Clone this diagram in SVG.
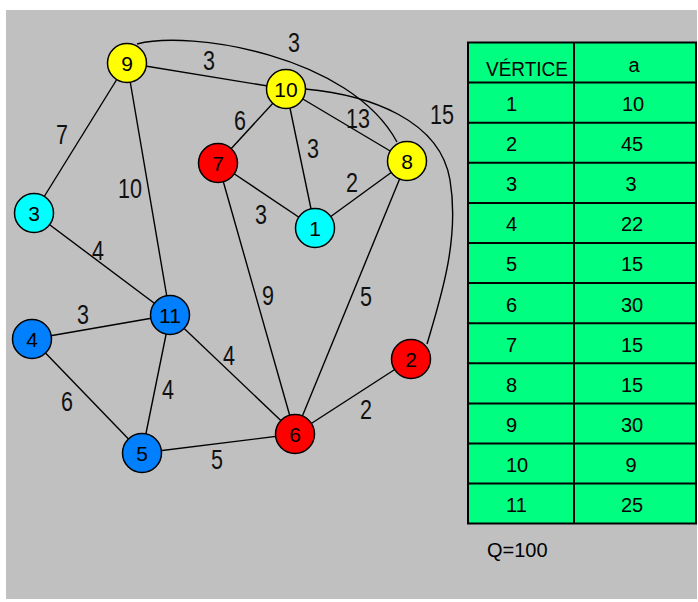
<svg xmlns="http://www.w3.org/2000/svg" width="698" height="602" viewBox="0 0 698 602">
  <style>
    .edge { fill: none; stroke: #000; stroke-width: 1.4; }
    .node circle { stroke: #000; stroke-width: 1.5; }
    .node text { font-family: "Liberation Sans", Arial, sans-serif; font-size: 21px; text-anchor: middle; fill: #000; }
    .w { font-family: "Liberation Sans", Arial, sans-serif; font-size: 27px; text-anchor: middle; fill: #111; }
    .yellow { fill: #ffff00; }
    .cyan { fill: #00ffff; }
    .red { fill: #ff0000; }
    .blue { fill: #0080ff; }
    .cell { fill: #00ff80; stroke: #000; stroke-width: 2; }
    .tt { font-family: "Liberation Sans", Arial, sans-serif; font-size: 20px; fill: #000; }
    .c2 { text-anchor: middle; }
  </style>

  <!-- canvas -->
  <rect x="0" y="0" width="698" height="602" fill="#ffffff"/>
  <rect x="6" y="10" width="691" height="589" fill="#c0c0c0"/>

  <!-- connectors -->
  <g id="edges">
    <line class="edge" x1="127" y1="63" x2="34" y2="213"/>
    <line class="edge" x1="127" y1="63" x2="286" y2="89"/>
    <line class="edge" x1="127" y1="63" x2="170" y2="315"/>
    <path class="edge" d="M137,44 C190,30 350,55 397,142"/>
    <line class="edge" x1="286" y1="89" x2="218" y2="163"/>
    <line class="edge" x1="286" y1="89" x2="315" y2="228"/>
    <line class="edge" x1="286" y1="89" x2="407" y2="161"/>
    <path class="edge" d="M305,89 C370,95 440,120 450,180 C460,240 440,300 427,344"/>
    <line class="edge" x1="218" y1="163" x2="315" y2="228"/>
    <line class="edge" x1="315" y1="228" x2="407" y2="161"/>
    <line class="edge" x1="218" y1="163" x2="295" y2="434"/>
    <line class="edge" x1="407" y1="161" x2="295" y2="434"/>
    <line class="edge" x1="34" y1="213" x2="170" y2="315"/>
    <line class="edge" x1="32" y1="339" x2="170" y2="315"/>
    <line class="edge" x1="32" y1="339" x2="142" y2="453"/>
    <line class="edge" x1="170" y1="315" x2="142" y2="453"/>
    <line class="edge" x1="170" y1="315" x2="295" y2="434"/>
    <line class="edge" x1="142" y1="453" x2="295" y2="434"/>
    <line class="edge" x1="295" y1="434" x2="411" y2="359"/>

    <!-- weights -->
    <text class="w" x="62" y="144" textLength="12" lengthAdjust="spacingAndGlyphs">7</text>
    <text class="w" x="130" y="198" textLength="24" lengthAdjust="spacingAndGlyphs">10</text>
    <text class="w" x="209" y="70" textLength="12" lengthAdjust="spacingAndGlyphs">3</text>
    <text class="w" x="294" y="52" textLength="12" lengthAdjust="spacingAndGlyphs">3</text>
    <text class="w" x="240" y="130" textLength="12" lengthAdjust="spacingAndGlyphs">6</text>
    <text class="w" x="313" y="158" textLength="12" lengthAdjust="spacingAndGlyphs">3</text>
    <text class="w" x="358" y="128" textLength="24" lengthAdjust="spacingAndGlyphs">13</text>
    <text class="w" x="442" y="124" textLength="24" lengthAdjust="spacingAndGlyphs">15</text>
    <text class="w" x="352" y="192" textLength="12" lengthAdjust="spacingAndGlyphs">2</text>
    <text class="w" x="261" y="224" textLength="12" lengthAdjust="spacingAndGlyphs">3</text>
    <text class="w" x="98" y="260" textLength="12" lengthAdjust="spacingAndGlyphs">4</text>
    <text class="w" x="83" y="324" textLength="12" lengthAdjust="spacingAndGlyphs">3</text>
    <text class="w" x="67" y="411" textLength="12" lengthAdjust="spacingAndGlyphs">6</text>
    <text class="w" x="168" y="399" textLength="12" lengthAdjust="spacingAndGlyphs">4</text>
    <text class="w" x="229" y="365" textLength="12" lengthAdjust="spacingAndGlyphs">4</text>
    <text class="w" x="217" y="469" textLength="12" lengthAdjust="spacingAndGlyphs">5</text>
    <text class="w" x="268" y="305" textLength="12" lengthAdjust="spacingAndGlyphs">9</text>
    <text class="w" x="366" y="306" textLength="12" lengthAdjust="spacingAndGlyphs">5</text>
    <text class="w" x="366" y="419" textLength="12" lengthAdjust="spacingAndGlyphs">2</text>
  </g>

  <!-- vertices -->
  <g id="n1" class="node"><circle class="cyan" cx="315" cy="228" r="19.5"/><text x="315" y="235.5">1</text></g>
  <g id="n2" class="node"><circle class="red" cx="411" cy="359" r="19.5"/><text x="411" y="366.5">2</text></g>
  <g id="n3" class="node"><circle class="cyan" cx="34" cy="213" r="19.5"/><text x="34" y="220.5">3</text></g>
  <g id="n4" class="node"><circle class="blue" cx="32" cy="339" r="19.5"/><text x="32" y="346.5">4</text></g>
  <g id="n5" class="node"><circle class="blue" cx="142" cy="453" r="19.5"/><text x="142" y="460.5">5</text></g>
  <g id="n6" class="node"><circle class="red" cx="295" cy="434" r="19.5"/><text x="295" y="441.5">6</text></g>
  <g id="n7" class="node"><circle class="red" cx="218" cy="163" r="19.5"/><text x="218" y="170.5">7</text></g>
  <g id="n8" class="node"><circle class="yellow" cx="407" cy="161" r="19.5"/><text x="407" y="168.5">8</text></g>
  <g id="n9" class="node"><circle class="yellow" cx="127" cy="63" r="19.5"/><text x="127" y="70.5">9</text></g>
  <g id="n10" class="node"><circle class="yellow" cx="286" cy="89" r="19.5"/><text x="286" y="96.5">10</text></g>
  <g id="n11" class="node"><circle class="blue" cx="170" cy="315" r="19.5"/><text x="170" y="322.5">11</text></g>

  <!-- weight table -->
  <g id="table">
    <rect class="cell" x="468" y="42.5" width="228" height="481"/>
    <g stroke="#000" stroke-width="2">
      <line x1="574" y1="42.5" x2="574" y2="523.5"/>
      <line x1="468" y1="82.6" x2="696" y2="82.6"/>
      <line x1="468" y1="122.7" x2="696" y2="122.7"/>
      <line x1="468" y1="162.8" x2="696" y2="162.8"/>
      <line x1="468" y1="202.9" x2="696" y2="202.9"/>
      <line x1="468" y1="243" x2="696" y2="243"/>
      <line x1="468" y1="283.1" x2="696" y2="283.1"/>
      <line x1="468" y1="323.2" x2="696" y2="323.2"/>
      <line x1="468" y1="363.3" x2="696" y2="363.3"/>
      <line x1="468" y1="403.4" x2="696" y2="403.4"/>
      <line x1="468" y1="443.5" x2="696" y2="443.5"/>
      <line x1="468" y1="483.6" x2="696" y2="483.6"/>
    </g>
    <text class="tt" x="527" y="76" text-anchor="middle" textLength="82" lengthAdjust="spacingAndGlyphs">VÉRTICE</text>
    <text class="tt c2" x="634" y="72">a</text>
    <text class="tt" x="506" y="111">1</text><text class="tt c2" x="633" y="111">10</text>
    <text class="tt" x="506" y="151">2</text><text class="tt c2" x="632" y="151">45</text>
    <text class="tt" x="506" y="191">3</text><text class="tt c2" x="631" y="191">3</text>
    <text class="tt" x="506" y="231">4</text><text class="tt c2" x="632" y="231">22</text>
    <text class="tt" x="506" y="271">5</text><text class="tt c2" x="632" y="271">15</text>
    <text class="tt" x="506" y="312">6</text><text class="tt c2" x="632" y="312">30</text>
    <text class="tt" x="506" y="352">7</text><text class="tt c2" x="632" y="352">15</text>
    <text class="tt" x="506" y="392">8</text><text class="tt c2" x="632" y="392">15</text>
    <text class="tt" x="506" y="432">9</text><text class="tt c2" x="632" y="432">30</text>
    <text class="tt" x="506" y="472">10</text><text class="tt c2" x="631" y="472">9</text>
    <text class="tt" x="506" y="512">11</text><text class="tt c2" x="632" y="512">25</text>
  </g>

  <text class="tt" x="487" y="557" fill="#202020">Q=100</text>
</svg>
